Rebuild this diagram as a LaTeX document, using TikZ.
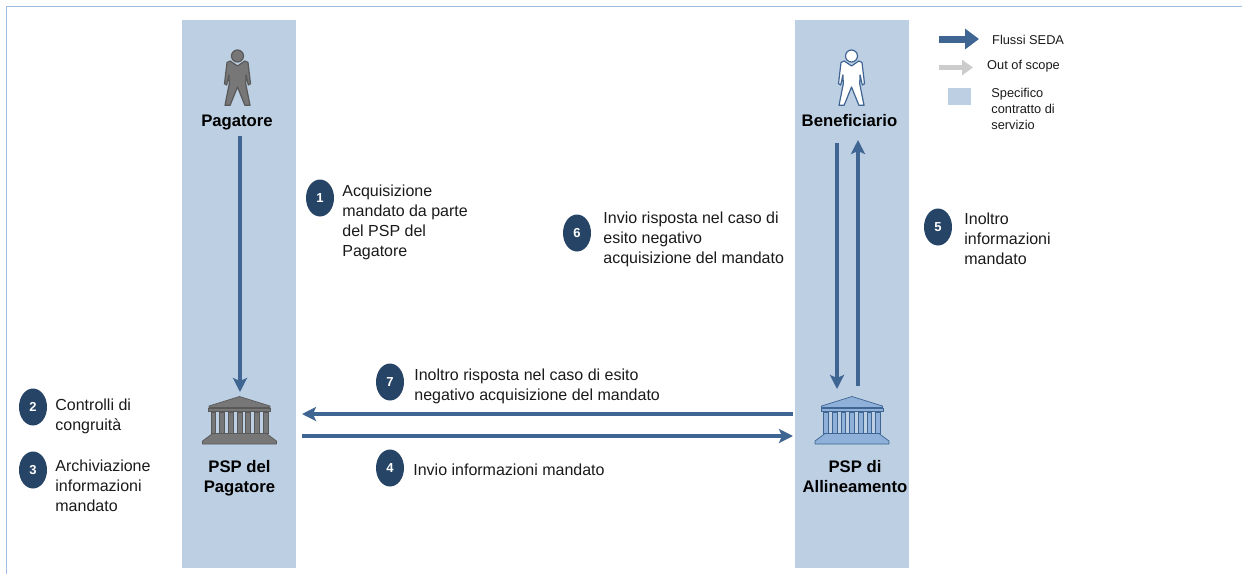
\documentclass[tikz,border=0pt]{standalone}
\usepackage{fontspec}
\setmainfont{Liberation Sans}
\usetikzlibrary{positioning,arrows.meta,shapes.geometric}
\definecolor{fascia}{HTML}{BDCFE3}
\definecolor{flusso}{HTML}{3F6593}
\definecolor{scuro}{HTML}{264466}
\definecolor{cornice}{HTML}{9DBDE3}
\definecolor{grigio}{HTML}{777777}
\definecolor{azzurro}{HTML}{8FB0D8}
\definecolor{testo}{HTML}{1A1A1A}
\tikzset{
  num/.style={ellipse,fill=scuro,text=white,inner sep=0pt,minimum width=28pt,minimum height=37pt,font=\fontsize{13}{13}\selectfont\bfseries},
  descr/.style={align=left,inner sep=0pt,text=testo,font=\fontsize{16}{20}\selectfont},
  attore/.style={align=center,inner sep=0pt,text=black,font=\fontsize{16.7}{20}\selectfont\bfseries},
  legenda/.style={align=left,anchor=west,inner sep=0pt,text=testo,font=\fontsize{12.8}{16}\selectfont},
  icona/.style={inner sep=0pt,minimum width=76pt,minimum height=48pt},
  flow/.style={draw=flusso,line width=4.5pt,-{Stealth[length=14pt,width=14pt,inset=3pt]}},
  pics/persona/.style 2 args={code={
    \draw[draw=#1,fill=#2,line width=1.2pt] (0,0) ellipse (6pt and 6pt);
    \draw[draw=#1,fill=#2,line width=1.2pt,line join=round] (-7.3,5) -- (0,10) -- (7.3,5) -- (10.5,6.5) -- (13,27.7) -- (10.8,29) -- (8.6,19) -- (8.2,27.7) -- (12.5,49.3) -- (7.4,49.3) -- (0,31) -- (-7.4,49.3) -- (-12.5,49.3) -- (-8.2,27.7) -- (-8.6,19) -- (-10.8,29) -- (-13,27.7) -- (-10.5,6.5) -- cycle;
  }},
  pics/banca/.style 2 args={code={
    \draw[draw=#1,fill=#2,line width=.7pt,line join=round] (0,-23.5) -- (30.5,-14) -- (30.5,-12.5) -- (-30.5,-12.5) -- (-30.5,-14) -- cycle;
    \draw[draw=#1,fill=#2,line width=.7pt] (-31,-11.5) rectangle (31,-9);
    \foreach \k in {-3,...,3}
      \draw[draw=#1,fill=#2,line width=.7pt] ({\k*8.7-2.4},-8) rectangle ({\k*8.7+2.4},13);
    \draw[draw=#1,fill=#2,line width=.7pt,line join=round] (-27,13.5) -- (27,13.5) -- (37,21) -- (37,24) -- (-37,24) -- (-37,21) -- cycle;
  }}
}
\begin{document}
\begin{tikzpicture}[x=1pt,y=-1pt]
\useasboundingbox (0,0) rectangle (1242,574);
\draw[cornice,line width=1pt] (6.5,574) -- (6.5,6.5) -- (1242,6.5);
\fill[fascia] (182,20) rectangle (296,568);
\fill[fascia] (795,20) rectangle (909,568);

\node[attore](pagatore) at (237,123){Pagatore};
\node[attore](beneficiario) at (849.5,121){Beneficiario};
\node[icona](bancaP) at (239.5,420){};
\node[icona](bancaA) at (852,420){};
\node[attore](pspP) at (239.5,478){PSP del\\Pagatore};
\node[attore](pspA) at (855,477){PSP di\\Allineamento};
\pic at (237.5,56) {persona={black!65}{grigio}};
\pic at (851.5,56) {persona={flusso}{white}};
\pic at (bancaP) {banca={black!65}{grigio}};
\pic at (bancaA) {banca={flusso}{azzurro}};

\coordinate (a) at (240,136);
\coordinate (b) at (240,392);
\coordinate (c) at (837,143);
\coordinate (d) at (837,389);
\coordinate (e) at (858,386);
\coordinate (f) at (858,140);
\coordinate (g) at (793,414);
\coordinate (h) at (302,414);
\coordinate (i) at (302,436);
\coordinate (j) at (793,436);
\draw[flow] (a) -- (b);
\draw[flow] (c) -- (d);
\draw[flow] (e) -- (f);
\draw[flow] (g) -- (h);
\draw[flow] (i) -- (j);

\node[num](n1) at (320,198){1};
\node[descr, right = 8pt of n1, yshift=-24pt](t1){Acquisizione\\mandato da parte\\del PSP del\\Pagatore};
\node[num](n2) at (33,407){2};
\node[descr, right = 8pt of n2, yshift=-9pt](t2){Controlli di\\congruità};
\node[num](n3) at (33,470){3};
\node[descr, right = 8pt of n3, yshift=-15.5pt](t3){Archiviazione\\informazioni\\mandato};
\node[num](n4) at (390,468){4};
\node[descr, right = 9pt of n4, yshift=-2pt](t4){Invio informazioni mandato};
\node[num](n5) at (938,227){5};
\node[descr, right = 12pt of n5, yshift=-12pt](t5){Inoltro\\informazioni\\mandato};
\node[num](n6) at (577,233){6};
\node[descr, right = 12pt of n6, yshift=-6pt](t6){Invio risposta nel caso di\\esito negativo\\acquisizione del mandato};
\node[num](n7) at (390,382){7};
\node[descr, right = 10pt of n7, yshift=-4pt](t7){Inoltro risposta nel caso di esito\\negativo acquisizione del mandato};

\coordinate (la) at (939,39);
\coordinate (lb) at (979,39);
\coordinate (lc) at (939,67.5);
\coordinate (ld) at (973,67.5);
\draw[draw=flusso,line width=7pt,-{Stealth[length=14pt,width=20pt,inset=0pt]}] (la) -- (lb);
\draw[draw=black!20,line width=5pt,-{Stealth[length=11pt,width=15pt,inset=0pt]}] (lc) -- (ld);
\node[legenda](l1) at (992,39.5){Flussi SEDA};
\node[legenda](l2) at (987,66.5){Out of scope};
\node[fill=fascia,minimum width=23pt,minimum height=17pt,inner sep=0pt](l3) at (959.5,96.5){};
\node[legenda, right = 20pt of l3, yshift=-12pt](l4){Specifico\\contratto di\\servizio};
\end{tikzpicture}
\end{document}
